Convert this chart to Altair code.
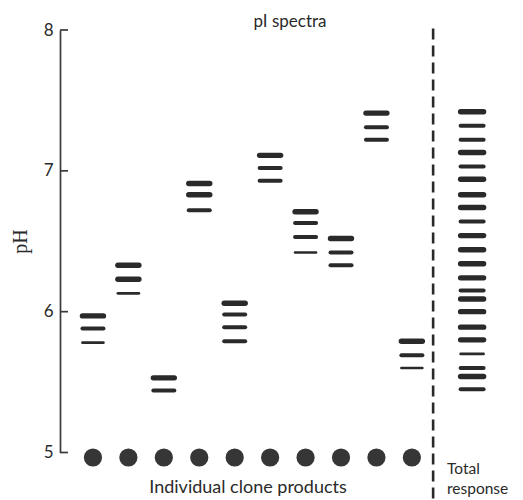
import altair as alt
import pandas as pd

# ---- data ----
clone_ids = [1, 2, 3, 4, 5, 6, 7, 8, 9, 10]

band_clone = [1, 1, 1,
              2, 2, 2,
              3, 3,
              4, 4, 4,
              5, 5, 5, 5,
              6, 6, 6,
              7, 7, 7, 7,
              8, 8, 8,
              9, 9, 9,
              10, 10, 10]
band_ph = [5.97, 5.88, 5.78,
           6.33, 6.23, 6.13,
           5.53, 5.44,
           6.91, 6.83, 6.72,
           6.06, 5.98, 5.89, 5.79,
           7.11, 7.02, 6.93,
           6.71, 6.63, 6.53, 6.42,
           6.52, 6.42, 6.33,
           7.41, 7.31, 7.22,
           5.79, 5.69, 5.60]
band_strength = [3, 2, 1,
                 3, 3, 1,
                 3, 2,
                 3, 3, 2,
                 3, 2, 2, 2,
                 3, 2, 2,
                 3, 2, 2, 1,
                 3, 2, 2,
                 3, 2, 2,
                 3, 2, 1]

total_position = 11.7
total_ph = [7.42, 7.32, 7.22, 7.13, 7.03, 6.94, 6.83, 6.74, 6.64, 6.54, 6.44,
            6.34, 6.24, 6.15, 6.09, 6.00, 5.89, 5.80, 5.70, 5.60, 5.54, 5.45]
total_strength = [3, 2, 2, 3, 2, 3, 3, 3, 2, 3, 3,
                  3, 3, 2, 3, 3, 3, 3, 1, 2, 3, 2]

y_ticks = [5, 6, 7, 8]
divider_x = 10.6
divider_top = 8.01
divider_bottom = 4.66

bands = pd.DataFrame({"clone": band_clone, "pH": band_ph, "strength": band_strength})
total = pd.DataFrame({"clone": [total_position] * len(total_ph), "pH": total_ph,
                      "strength": total_strength})
dots = pd.DataFrame({"clone": clone_ids, "pH": [5] * len(clone_ids)})
ticks = pd.DataFrame({"pH": y_ticks})
divider = pd.DataFrame({"clone": [divider_x], "pH": [divider_top], "bottom": [divider_bottom]})
one = pd.DataFrame({"k": [0]})

INK = "#2a2a2a"
SANS = "Lato"

xs = alt.Scale(domain=[0.07, 12.6], nice=False, zero=False)
ys = alt.Scale(domain=[5, 8], nice=False, zero=False)
sw = alt.Scale(domain=[1, 3], range=[2.6, 5.4])

y_axis = alt.Axis(values=y_ticks, ticks=False, grid=False, labelPadding=7,
                  labelFont=SANS, labelFontSize=17, labelColor="#2a2a2a",
                  domainColor="#3a3a3a", domainWidth=1.7,
                  title="pH", titleFont="Liberation Serif", titleFontSize=20,
                  titleFontWeight="normal", titleColor="#2a2a2a",
                  titleAngle=270, titleX=-34, titleY=211,
                  titleAlign="center", titleBaseline="alphabetic")


def X():
    return alt.X("clone:Q", scale=xs, axis=None)


def Y():
    return alt.Y("pH:Q", scale=ys, axis=y_axis)


clone_bands = alt.Chart(bands).mark_rule(
    color=INK, strokeCap="round", xOffset=-10.5, x2Offset=10.5
).encode(
    x=X(), x2="clone:Q", y=Y(),
    strokeWidth=alt.StrokeWidth("strength:Q", scale=sw, legend=None),
)

total_bands = alt.Chart(total).mark_rule(
    color=INK, strokeCap="round", xOffset=-11.5, x2Offset=11.5
).encode(
    x=X(), x2="clone:Q", y=Y(),
    strokeWidth=alt.StrokeWidth("strength:Q", scale=sw, legend=None),
)

dot_marks = alt.Chart(dots).mark_circle(color="#363636", opacity=1, size=330, yOffset=5).encode(
    x=X(), y=Y()
)

tick_marks = alt.Chart(ticks).mark_rule(color="#3a3a3a", strokeWidth=1.7).encode(
    y=Y(), x=alt.value(0), x2=alt.value(8)
)

divider_line = alt.Chart(divider).mark_rule(
    color="#2a2a2a", strokeWidth=2.6, strokeDash=[11, 6]
).encode(
    x=X(), y=Y(), y2="bottom:Q"
)


def label(txt, px, py, size, align="center"):
    return alt.Chart(one).mark_text(
        text=txt, font=SANS, fontSize=size, color="#2a2a2a", align=align,
        baseline="alphabetic"
    ).encode(x=alt.value(px), y=alt.value(py))


chart = alt.layer(
    divider_line, tick_marks, clone_bands, total_bands, dot_marks,
    label("pI spectra", 230, -3, 17),
    label("Individual clone products", 188, 463, 18),
    label("Total", 387, 444, 15.5, "left"),
    label("response", 387, 464, 15.5, "left"),
).properties(
    width=444, height=422.5,
    autosize=alt.AutoSizeParams(type="none"),
    padding={"left": 52, "top": 22, "right": 11, "bottom": 46},
).configure_view(strokeWidth=0)

chart.save("out.html", embed_options={"renderer": "svg", "actions": False})
